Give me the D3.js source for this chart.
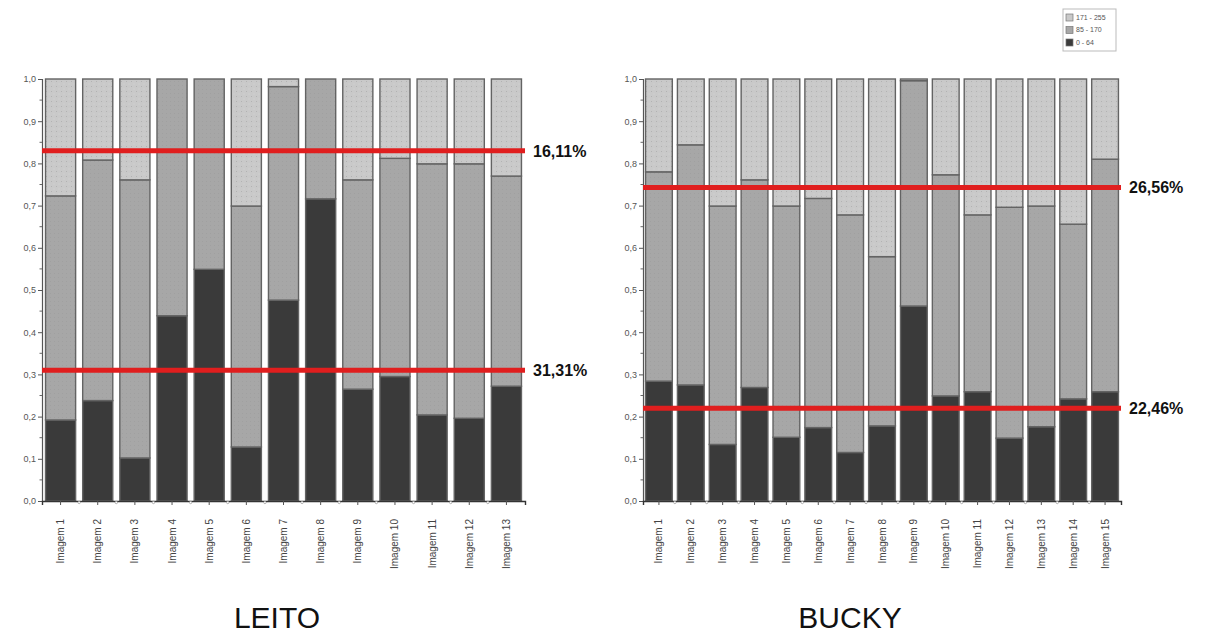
<!DOCTYPE html>
<html>
<head>
<meta charset="utf-8">
<script src="https://cdn.jsdelivr.net/npm/d3@7"></script>
<style>
  body { margin: 0; background: #fff; }
  svg { display: block; }
</style>
</head>
<body>
<svg id="chart" width="1205" height="637"></svg>
<script>
// ---------- DATA ----------
const leitoCategories = ["Imagem 1","Imagem 2","Imagem 3","Imagem 4","Imagem 5","Imagem 6","Imagem 7","Imagem 8","Imagem 9","Imagem 10","Imagem 11","Imagem 12","Imagem 13"];
const leitoDark  = [0.192, 0.238, 0.102, 0.439, 0.549, 0.128, 0.476, 0.716, 0.265, 0.295, 0.204, 0.196, 0.272];   // 0 - 64
const leitoMid   = [0.531, 0.570, 0.659, 0.561, 0.451, 0.571, 0.506, 0.284, 0.496, 0.517, 0.595, 0.603, 0.498];   // 85 - 170
const leitoLight = [0.277, 0.192, 0.239, 0.000, 0.000, 0.301, 0.018, 0.000, 0.239, 0.188, 0.201, 0.201, 0.230];   // 171 - 255
const leitoLineValues = [0.830, 0.310];
const leitoLineLabels = ["16,11%", "31,31%"];

const buckyCategories = ["Imagem 1","Imagem 2","Imagem 3","Imagem 4","Imagem 5","Imagem 6","Imagem 7","Imagem 8","Imagem 9","Imagem 10","Imagem 11","Imagem 12","Imagem 13","Imagem 14","Imagem 15"];
const buckyDark  = [0.284, 0.275, 0.134, 0.269, 0.151, 0.174, 0.115, 0.178, 0.462, 0.249, 0.259, 0.149, 0.176, 0.242, 0.259];
const buckyMid   = [0.496, 0.569, 0.565, 0.492, 0.548, 0.543, 0.563, 0.401, 0.534, 0.524, 0.419, 0.547, 0.523, 0.414, 0.551];
const buckyLight = [0.220, 0.156, 0.301, 0.239, 0.301, 0.283, 0.322, 0.421, 0.004, 0.227, 0.322, 0.304, 0.301, 0.344, 0.190];
const buckyLineValues = [0.743, 0.220];
const buckyLineLabels = ["26,56%", "22,46%"];

const seriesNames = ["0 - 64", "85 - 170", "171 - 255"];
const legendOrder = ["171 - 255", "85 - 170", "0 - 64"];
const yTickValues = [0, 0.1, 0.2, 0.3, 0.4, 0.5, 0.6, 0.7, 0.8, 0.9, 1.0];
const chartTitles = ["LEITO", "BUCKY"];

// ---------- DRAW ----------
const svg = d3.select("#chart");
const defs = svg.append("defs");

const lp = defs.append("pattern").attr("id", "lightPat").attr("patternUnits", "userSpaceOnUse")
  .attr("width", 5).attr("height", 5);
lp.append("rect").attr("width", 5).attr("height", 5).attr("fill", "#c9c9c9");
lp.append("rect").attr("x", 1).attr("y", 1).attr("width", 1).attr("height", 1).attr("fill", "#b2b2b2");
lp.append("rect").attr("x", 3.5).attr("y", 3.5).attr("width", 1).attr("height", 1).attr("fill", "#d6d6d6");

const mp = defs.append("pattern").attr("id", "midPat").attr("patternUnits", "userSpaceOnUse")
  .attr("width", 4).attr("height", 4);
mp.append("rect").attr("width", 4).attr("height", 4).attr("fill", "#a7a7a7");
mp.append("rect").attr("x", 2).attr("y", 1).attr("width", 1).attr("height", 1).attr("fill", "#a0a0a0");

const fills = { "0 - 64": "#3a3a3a", "85 - 170": "url(#midPat)", "171 - 255": "url(#lightPat)" };
const legendFills = { "0 - 64": "#3a3a3a", "85 - 170": "#a7a7a7", "171 - 255": "#c9c9c9" };

const fmt = v => d3.format(".1f")(v).replace(".", ",");

function drawChart(cfg) {
  const { categories, dark, mid, light, lineValues, lineLabels, x0, x1, title, titleX, pad } = cfg;
  const y = d3.scaleLinear().domain([0, 1]).range([501, 79]);
  const x = d3.scaleBand().domain(categories).range([x0, x1]).paddingInner(pad).paddingOuter(pad / 2);

  const rows = categories.map((c, i) => ({ cat: c, "0 - 64": dark[i], "85 - 170": mid[i], "171 - 255": light[i] }));
  const stacked = d3.stack().keys(seriesNames)(rows);

  const g = svg.append("g");

  stacked.forEach(layer => {
    g.append("g").selectAll("rect").data(layer).join("rect")
      .attr("x", d => x(d.data.cat))
      .attr("width", x.bandwidth())
      .attr("y", d => y(d[1]))
      .attr("height", d => Math.max(0, y(d[0]) - y(d[1])))
      .attr("fill", fills[layer.key])
      .attr("stroke", "#636363")
      .attr("stroke-width", 1.4);
  });

  // y axis
  const yAxis = d3.axisLeft(y).tickValues(yTickValues).tickFormat(fmt).tickSize(4).tickPadding(2);
  const ya = g.append("g").attr("transform", `translate(${x0},0)`).call(yAxis);
  ya.select(".domain").attr("stroke", "#555").attr("stroke-width", 1.2);
  ya.selectAll(".tick line").attr("stroke", "#555");
  ya.selectAll(".tick text").attr("fill", "#555").style("font", "9px 'Liberation Sans', Arial, sans-serif");
  // minor y ticks
  const minorY = d3.range(0.05, 1, 0.1);
  g.append("g").selectAll("line").data(minorY).join("line")
    .attr("x1", x0 - 2.5).attr("x2", x0).attr("y1", d => y(d)).attr("y2", d => y(d))
    .attr("stroke", "#666");

  // x axis
  const xAxis = d3.axisBottom(x).tickSize(4).tickFormat("");
  const xa = g.append("g").attr("transform", `translate(0,501)`).call(xAxis);
  xa.select(".domain").attr("stroke", "#333").attr("stroke-width", 1.4);
  xa.selectAll(".tick line").attr("stroke", "#555");
  // minor x ticks between bars
  const minorX = categories.slice(1).map(c => x(c) - x.step() * pad / 2);
  g.append("g").selectAll("circle").data(minorX).join("circle")
    .attr("cx", d => d).attr("cy", 502.5).attr("r", 1.2)
    .attr("fill", "#fff").attr("stroke", "#888").attr("stroke-width", 0.6);
  // rotated labels
  g.append("g").selectAll("text").data(categories).join("text")
    .attr("transform", d => `translate(${x(d) + x.bandwidth() / 2},519) rotate(-90)`)
    .attr("text-anchor", "end").attr("dy", "0.35em")
    .attr("fill", "#444")
    .style("font", "10px 'Liberation Sans', Arial, sans-serif")
    .text(d => d);

  // reference lines
  lineValues.forEach((v, i) => {
    g.append("line").attr("x1", x0).attr("x2", x1).attr("y1", y(v)).attr("y2", y(v))
      .attr("stroke", "#e01e1e").attr("stroke-width", 5);
    g.append("text").attr("x", x1 + 8).attr("y", y(v)).attr("dy", "0.36em")
      .attr("fill", "#111")
      .style("font", "bold 16px 'Liberation Sans Narrow', 'Liberation Sans', Arial, sans-serif")
      .text(lineLabels[i]);
  });

  svg.append("text").attr("x", titleX).attr("y", 628).attr("text-anchor", "middle")
    .attr("fill", "#111")
    .style("font", "30px 'Liberation Sans', Arial, sans-serif")
    .text(title);
}

drawChart({ categories: leitoCategories, dark: leitoDark, mid: leitoMid, light: leitoLight,
  lineValues: leitoLineValues, lineLabels: leitoLineLabels, x0: 42, x1: 525, title: chartTitles[0], titleX: 277, pad: 0.19 });
drawChart({ categories: buckyCategories, dark: buckyDark, mid: buckyMid, light: buckyLight,
  lineValues: buckyLineValues, lineLabels: buckyLineLabels, x0: 643, x1: 1121, title: chartTitles[1], titleX: 850, pad: 0.16 });

// legend
const lg = svg.append("g");
lg.append("rect").attr("x", 1063).attr("y", 9).attr("width", 53).attr("height", 42)
  .attr("fill", "#fff").attr("stroke", "#bbb").attr("stroke-width", 1);
legendOrder.forEach((k, i) => {
  const yy = 14 + i * 12.5;
  lg.append("rect").attr("x", 1066).attr("y", yy).attr("width", 7).attr("height", 7)
    .attr("fill", legendFills[k]).attr("stroke", "#777").attr("stroke-width", 0.7);
  lg.append("text").attr("x", 1076).attr("y", yy + 3.5).attr("dy", "0.35em")
    .attr("fill", "#555").style("font", "7px 'Liberation Sans', Arial, sans-serif").text(k);
});
</script>
</body>
</html>
